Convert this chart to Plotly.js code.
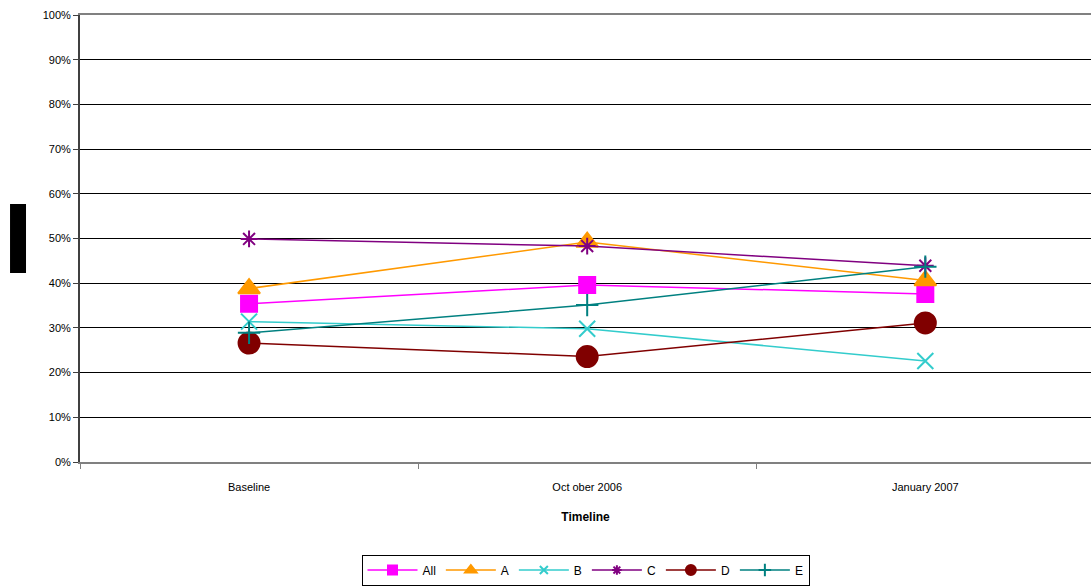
<!DOCTYPE html>
<html>
<head>
<meta charset="utf-8">
<script src="https://cdn.plot.ly/plotly-3.0.1.min.js"></script>
<style>html,body{margin:0;padding:0;background:#fff;}#chart{width:1091px;height:586px;}</style>
</head>
<body>
<div id="chart"></div>
<script>
const categories = ["Baseline", "Oct ober 2006", "January 2007"];
const seriesNames = ["All", "A", "B", "C", "D", "E"];
const valAll = [35.4, 39.6, 37.6];
const valA = [38.8, 49.2, 40.6];
const valB = [31.4, 29.8, 22.6];
const valC = [49.9, 48.3, 43.9];
const valD = [26.6, 23.6, 31.1];
const valE = [28.9, 35.1, 43.7];
const yTickVals = [0,10,20,30,40,50,60,70,80,90,100];
const yTickText = yTickVals.map(v => v + '%');

const styles = [
  {color:'#FF00FF', symbol:'square', size:16, lsize:9},
  {color:'#FF9900', symbol:'triangle-up', size:19, lsize:10},
  {color:'#33CCCC', symbol:'x-thin-open', size:16, lsize:8},
  {color:'#800080', symbol:'asterisk-open', size:14, lsize:8},
  {color:'#800000', symbol:'circle', size:21, lsize:10},
  {color:'#008080', symbol:'cross-thin-open', size:16, lsize:9}
];
const values = [valAll, valA, valB, valC, valD, valE];

const traces = seriesNames.map((n,i)=>({
  type:'scatter', mode:'lines+markers', name:n, showlegend:false,
  x:categories, y:values[i],
  line:{color:styles[i].color, width:1.5},
  marker:{symbol:styles[i].symbol, size:styles[i].size, color:styles[i].color,
          line:{color:styles[i].color, width:2}}
}));
const legendTraces = seriesNames.map((n,i)=>({
  type:'scatter', mode:'lines+markers', name:n, showlegend:true,
  x:[categories[0]], y:[null],
  line:{color:styles[i].color, width:1.5},
  marker:{symbol:styles[i].symbol, size:styles[i].lsize, color:styles[i].color,
          line:{color:styles[i].color, width:2}}
}));

const layout = {
  width:1091, height:586,
  margin:{l:80, r:0, t:15, b:122},
  paper_bgcolor:'#fff', plot_bgcolor:'#fff',
  font:{family:'Liberation Sans, Arial, sans-serif', size:11, color:'#000'},
  showlegend:true,
  legend:{orientation:'h', x:0.5, xanchor:'center', y:-0.207, yanchor:'top',
          bordercolor:'#000', borderwidth:1, font:{size:12, color:'#000'}, itemwidth:50,
          tracegroupgap:0},
  xaxis:{type:'category', range:[-0.5, 2.49], tickson:'boundaries',
         ticks:'outside', ticklen:5, tickcolor:'#808080',
         showline:true, linecolor:'#808080', linewidth:2, mirror:true,
         showgrid:false, zeroline:false, ticklabelstandoff:14,
         tickfont:{size:11, color:'#000'},
         title:{text:'<b>Timeline</b>', font:{size:12, color:'#000'}, standoff:20}},
  yaxis:{range:[0,100], tickvals:yTickVals, ticktext:yTickText,
         ticks:'outside', ticklen:5, tickcolor:'#404040',
         showline:true, linecolor:'#404040', linewidth:2,
         showgrid:true, gridcolor:'#000', gridwidth:1, zeroline:false,
         tickfont:{size:11, color:'#000'}},
  shapes:[{type:'rect', xref:'paper', yref:'paper',
           x0:-0.0692, x1:-0.0534, y0:0.423, y1:0.577,
           fillcolor:'#000', line:{width:0}}]
};

Plotly.newPlot('chart', traces.concat(legendTraces), layout, {displayModeBar:false, staticPlot:true});
</script>
</body>
</html>
